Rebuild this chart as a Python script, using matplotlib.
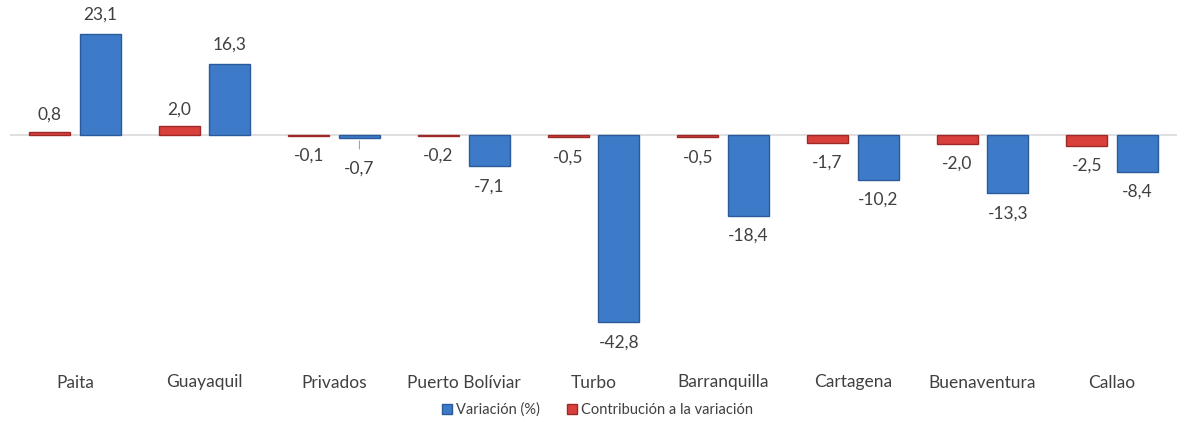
import matplotlib
matplotlib.use("Agg")
from matplotlib import pyplot as plt
import numpy as np

puertos = ["Paita", "Guayaquil", "Privados", "Puerto Bolíviar", "Turbo",
           "Barranquilla", "Cartagena", "Buenaventura", "Callao"]
contribucion = [0.8, 2.0, -0.1, -0.2, -0.5, -0.5, -1.7, -2.0, -2.5]
variacion = [23.1, 16.3, -0.7, -7.1, -42.8, -18.4, -10.2, -13.3, -8.4]

plt.rcParams['font.family'] = ['Lato', 'DejaVu Sans']
gris = '#404040'

fig = plt.figure(figsize=(11.95, 4.22), dpi=100)
ax = fig.add_axes([10 / 1195, 60 / 422, 1167 / 1195, 362 / 422])

x = np.arange(len(puertos))
w = 0.315
b_rojo = ax.bar(x - 0.195, contribucion, w, color='#D9403C', edgecolor='#9E2A28',
                linewidth=1, label='Contribución a la variación', zorder=3)
b_azul = ax.bar(x + 0.195, variacion, w, color='#3D7BC9', edgecolor='#2A5A9A',
                linewidth=1, label='Variación (%)', zorder=3)

ax.axhline(0, color='#D9D9D9', linewidth=1.2, zorder=2)

def fmt(v):
    return f"{v:.1f}".replace('.', ',')

fs = 12.5
for xi, v in zip(x - 0.195, contribucion):
    off = 17 if v >= 0 else -20
    ax.annotate(fmt(v), (xi, v), xytext=(0, off), textcoords='offset pixels',
                ha='center', va='center', fontsize=fs, color=gris)
for xi, v in zip(x + 0.195, variacion):
    if abs(v) < 2:
        ax.annotate(fmt(v), (xi, v), xytext=(0, -30), textcoords='offset pixels',
                    ha='center', va='center', fontsize=fs, color=gris,
                    arrowprops=dict(arrowstyle='-', color='#A6A6A6', lw=0.8,
                                    shrinkA=6, shrinkB=2))
        continue
    off = 19 if v >= 0 else -20
    ax.annotate(fmt(v), (xi, v), xytext=(0, off), textcoords='offset pixels',
                ha='center', va='center', fontsize=fs, color=gris)

ax.set_xlim(-0.5, len(puertos) - 0.5)
ax.set_ylim(-51.9, 30.9)
ax.set_xticks(x)
ax.set_xticklabels(puertos, fontsize=fs, color=gris)
ax.tick_params(axis='x', length=0, pad=9)
ax.set_yticks([])
for s in ax.spines.values():
    s.set_visible(False)

handles = [b_azul, b_rojo]
fig.legend(handles, [h.get_label() for h in handles], loc='center',
           bbox_to_anchor=(0.5, 12 / 422), ncol=2, frameon=False, fontsize=10.5,
           handlelength=0.7, handleheight=0.7, handletextpad=0.3, columnspacing=1.8,
           labelcolor=gris)

fig.savefig("out.png", dpi=100)
